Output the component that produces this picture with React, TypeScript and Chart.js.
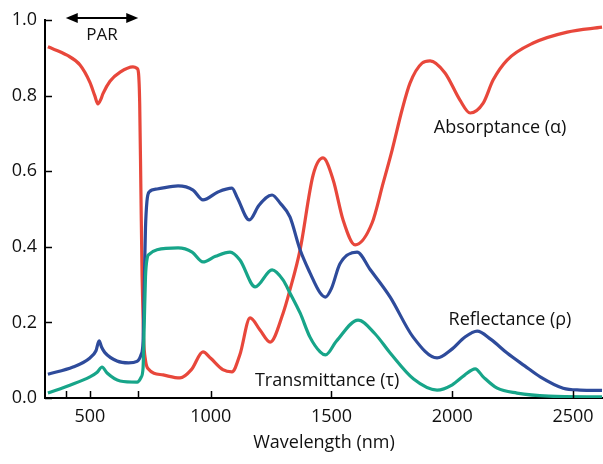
import React, { useEffect, useRef } from "react";
import { Chart, registerables } from "chart.js";

Chart.register(...registerables);

// Wavelength (nm) and values for each series
const absWl = [326, 405, 459, 500, 520, 533, 545, 554, 583, 625, 678, 695, 701, 706, 711, 716, 722, 730, 740, 803, 873, 920, 968, 1000, 1050, 1088, 1121, 1163, 1204, 1246, 1300, 1328, 1370, 1424, 1465, 1507, 1548, 1598, 1668, 1714, 1751, 1792, 1825, 1875, 1908, 1970, 2032, 2074, 2128, 2169, 2227, 2335, 2476, 2620];
const absVal = [0.929, 0.907, 0.881, 0.835, 0.8, 0.778, 0.79, 0.805, 0.838, 0.862, 0.876, 0.872, 0.86, 0.78, 0.55, 0.32, 0.16, 0.1, 0.078, 0.061, 0.053, 0.075, 0.122, 0.105, 0.075, 0.069, 0.115, 0.212, 0.18, 0.148, 0.225, 0.286, 0.392, 0.59, 0.635, 0.577, 0.471, 0.405, 0.463, 0.569, 0.656, 0.762, 0.833, 0.886, 0.892, 0.86, 0.788, 0.754, 0.78, 0.841, 0.894, 0.939, 0.968, 0.981];

const refWl = [326, 430, 500, 525, 538, 548, 562, 612, 660, 695, 712, 720, 725, 730, 736, 745, 778, 865, 927, 968, 1030, 1088, 1110, 1160, 1200, 1254, 1287, 1328, 1370, 1411, 1453, 1475, 1500, 1535, 1606, 1660, 1743, 1838, 1937, 2000, 2050, 2103, 2160, 2227, 2300, 2364, 2459, 2529, 2620];
const refVal = [0.063, 0.082, 0.106, 0.125, 0.151, 0.135, 0.12, 0.098, 0.093, 0.097, 0.115, 0.15, 0.3, 0.45, 0.52, 0.545, 0.553, 0.561, 0.55, 0.524, 0.545, 0.555, 0.53, 0.471, 0.51, 0.537, 0.516, 0.479, 0.392, 0.331, 0.278, 0.267, 0.29, 0.355, 0.386, 0.34, 0.267, 0.161, 0.106, 0.13, 0.16, 0.177, 0.155, 0.119, 0.085, 0.056, 0.026, 0.021, 0.02];

const trWl = [326, 417, 500, 530, 550, 571, 625, 695, 712, 720, 725, 730, 737, 745, 778, 865, 923, 968, 1020, 1080, 1121, 1184, 1254, 1300, 1328, 1370, 1411, 1453, 1475, 1520, 1610, 1680, 1743, 1840, 1937, 2000, 2050, 2095, 2128, 2186, 2268, 2400, 2620];
const trVal = [0.013, 0.034, 0.056, 0.068, 0.082, 0.066, 0.045, 0.042, 0.055, 0.08, 0.2, 0.32, 0.37, 0.38, 0.392, 0.397, 0.386, 0.36, 0.375, 0.386, 0.365, 0.294, 0.339, 0.312, 0.278, 0.225, 0.161, 0.122, 0.114, 0.15, 0.206, 0.17, 0.119, 0.05, 0.021, 0.035, 0.06, 0.077, 0.056, 0.026, 0.013, 0.005, 0.003];

const xTickValues = [400, 500, 700, 1000, 1500, 2000, 2500];
const xTickLabels = ["", "500", "", "1000", "1500", "2000", "2500"];
const yTickValues = [0, 0.2, 0.4, 0.6, 0.8, 1.0];

const seriesNames = ["Absorptance (α)", "Reflectance (ρ)", "Transmittance (τ)"];
const parRange = [400, 700];
const parLabel = "PAR";

const FONT = "'Open Sans', 'Noto Sans', sans-serif";
const RED = "#e8473b";
const BLUE = "#2e4b9b";
const GREEN = "#17a589";

function toPts(wl: number[], v: number[]) {
  return wl.map((w, i) => ({ x: w, y: v[i] }));
}

const annotPlugin = {
  id: "annot",
  afterDraw(chart: any) {
    const { ctx, chartArea } = chart;
    const x = chart.scales.x;
    const y = chart.scales.y;
    ctx.save();
    // inward tick marks
    ctx.strokeStyle = "#000";
    ctx.lineWidth = 1.5;
    xTickValues.forEach((v) => {
      const px = Math.round(x.getPixelForValue(v)) + 0.5;
      ctx.beginPath();
      ctx.moveTo(px, chartArea.bottom);
      ctx.lineTo(px, chartArea.bottom - 7);
      ctx.stroke();
    });
    yTickValues.forEach((v) => {
      const py = Math.round(y.getPixelForValue(v)) + 0.5;
      ctx.beginPath();
      ctx.moveTo(chartArea.left, py);
      ctx.lineTo(chartArea.left + 7, py);
      ctx.stroke();
    });

    // series labels
    ctx.fillStyle = "#111";
    ctx.font = `18px ${FONT}`;
    ctx.textAlign = "center";
    ctx.textBaseline = "middle";
    const labelPos = [
      [2198, 0.714],
      [2239, 0.206],
      [1482, 0.045],
    ];
    seriesNames.forEach((n, i) => {
      ctx.fillText(n, x.getPixelForValue(labelPos[i][0]), y.getPixelForValue(labelPos[i][1]));
    });

    // PAR arrow
    const x1 = x.getPixelForValue(parRange[0]);
    const x2 = x.getPixelForValue(parRange[1]);
    const ay = y.getPixelForValue(1.005);
    ctx.strokeStyle = "#000";
    ctx.fillStyle = "#000";
    ctx.lineWidth = 2;
    ctx.beginPath();
    ctx.moveTo(x1 + 6, ay);
    ctx.lineTo(x2 - 6, ay);
    ctx.stroke();
    const head = (tx: number, dir: number) => {
      ctx.beginPath();
      ctx.moveTo(tx, ay);
      ctx.lineTo(tx - dir * 12, ay - 5);
      ctx.lineTo(tx - dir * 12, ay + 5);
      ctx.closePath();
      ctx.fill();
    };
    head(x1, -1);
    head(x2, 1);
    ctx.font = `17px ${FONT}`;
    ctx.fillStyle = "#111";
    ctx.fillText(parLabel, x.getPixelForValue((parRange[0] + parRange[1]) / 2), y.getPixelForValue(0.961));
    ctx.restore();
  },
};

export default function App() {
  const ref = useRef<HTMLCanvasElement | null>(null);
  useEffect(() => {
    if (!ref.current) return;
    const ds = (label: string, wl: number[], v: number[], color: string) => ({
      label,
      data: toPts(wl, v),
      borderColor: color,
      backgroundColor: color,
      borderWidth: 3.2,
      pointRadius: 0,
      cubicInterpolationMode: "monotone" as const,
      fill: false,
    });
    const chart = new Chart(ref.current, {
      type: "line",
      data: {
        datasets: [
          ds(seriesNames[2], trWl, trVal, GREEN),
          ds(seriesNames[1], refWl, refVal, BLUE),
          ds(seriesNames[0], absWl, absVal, RED),
        ],
      },
      options: {
        animation: false,
        responsive: false,
        layout: { padding: { top: 20, left: 0, right: 0, bottom: 0 } },
        plugins: { legend: { display: false }, tooltip: { enabled: false } },
        scales: {
          x: {
            type: "linear",
            min: 314,
            max: 2624,
            afterFit: (s: any) => {
              s.height = 66;
            },
            afterBuildTicks: (s: any) => {
              s.ticks = xTickValues.map((v) => ({ value: v }));
            },
            ticks: {
              autoSkip: false,
              maxRotation: 0,
              padding: 8,
              color: "#111",
              font: { family: FONT, size: 18 },
              callback: (v: any) => {
                const i = xTickValues.indexOf(Number(v));
                return i >= 0 ? xTickLabels[i] : "";
              },
            },
            grid: { display: true, drawOnChartArea: false, drawTicks: false, color: "#000" },
            border: { display: true, color: "#000", width: 2 },
            title: {
              display: true,
              text: "Wavelength (nm)",
              color: "#111",
              font: { family: FONT, size: 18 },
              padding: { top: 4, bottom: 10 },
            },
          },
          y: {
            type: "linear",
            min: 0,
            max: 1,
            afterFit: (s: any) => {
              s.width = 45;
            },
            afterBuildTicks: (s: any) => {
              s.ticks = yTickValues.map((v) => ({ value: v }));
            },
            ticks: {
              padding: 8,
              color: "#111",
              font: { family: FONT, size: 18 },
              callback: (v: any) => Number(v).toFixed(1),
            },
            grid: { display: true, drawOnChartArea: false, drawTicks: false, color: "#000" },
            border: { display: true, color: "#000", width: 2 },
          },
        },
      },
      plugins: [annotPlugin],
    });
    return () => chart.destroy();
  }, []);
  return (
    <div style={{ position: "absolute", left: 0, top: 0, width: 603, height: 464, background: "#fff" }}>
      <canvas ref={ref} width={603} height={464} />
    </div>
  );
}
